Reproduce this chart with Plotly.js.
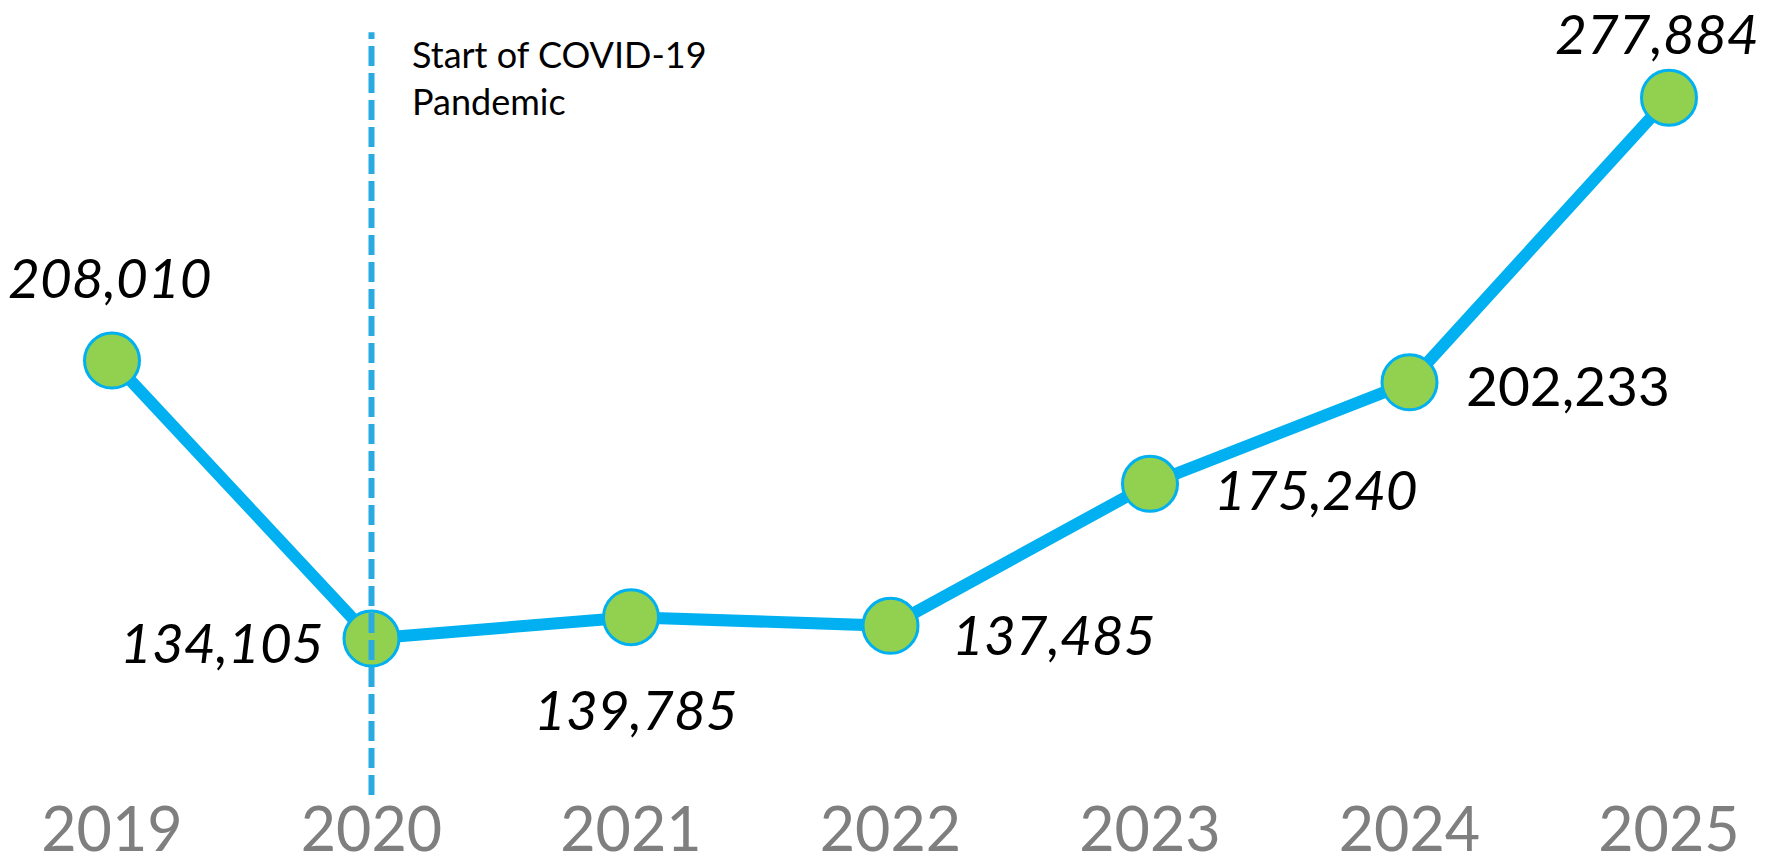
<!DOCTYPE html>
<html>
<head>
<meta charset="utf-8">
<script src="https://cdn.plot.ly/plotly-3.0.1.min.js"></script>
<style>
html,body{margin:0;padding:0;background:#fff;}
#chart{width:1768px;height:866px;}
</style>
</head>
<body>
<div id="chart"></div>
<script>
// ---- data ----
const years = ['2019', '2020', '2021', '2022', '2023', '2024', '2025'];
const values = [208010, 134105, 139785, 137485, 175240, 202233, 277884];
const eventYear = '2020';
const eventText = 'Start of COVID-19<br>Pandemic';

// ---- label placement (pixels, relative to each point) ----
const labelShift = [
  [-2, 84], [-150, -3], [5, -92], [163, -8], [166, -5], [158, -3], [-12, 65]
];
const uprightIdx = [5];

const fmt = v => v.toLocaleString('en-US');

const trace = {
  x: years,
  y: values,
  type: 'scatter',
  mode: 'lines+markers',
  line: {color: '#00B0F0', width: 12},
  marker: {color: '#92D050', size: 55, line: {color: '#00B0F0', width: 3}},
  hoverinfo: 'x+y',
  cliponaxis: false
};

const annotations = years.map((yr, i) => ({
  x: i, y: values[i], xref: 'x', yref: 'y',
  text: uprightIdx.includes(i) ? fmt(values[i]) : '<i>' + fmt(values[i]) + '</i>',
  showarrow: false,
  xanchor: 'center', yanchor: 'middle',
  xshift: labelShift[i][0], yshift: labelShift[i][1],
  font: {family: 'Lato, "Open Sans", sans-serif', size: 55, color: '#000000'}
}));

annotations.push({
  x: 410 / 1768, y: 0.957, xref: 'paper', yref: 'paper',
  text: eventText, showarrow: false, align: 'left',
  xanchor: 'left', yanchor: 'top',
  font: {family: 'Lato, "Open Sans", sans-serif', size: 36, color: '#000000'}
});

const eventIdx = years.indexOf(eventYear);

const layout = {
  width: 1768, height: 866,
  margin: {l: 0, r: 0, t: 0, b: 166},
  paper_bgcolor: '#ffffff', plot_bgcolor: '#ffffff',
  showlegend: false,
  xaxis: {
    type: 'category',
    range: [-0.4316, 6.3815],
    showgrid: false, zeroline: false, showline: false, ticks: '',
    tickfont: {family: 'Lato, "Open Sans", sans-serif', size: 61, color: '#7F7F7F'},
    ticklabelstandoff: 89,
    fixedrange: true
  },
  yaxis: {
    range: [117770, 303870],
    visible: false, showgrid: false, zeroline: false,
    fixedrange: true
  },
  shapes: [{
    type: 'line', xref: 'x', yref: 'paper',
    x0: eventIdx, x1: eventIdx, y0: -0.1357, y1: 0.954,
    line: {color: '#29ABE2', width: 6, dash: '20px,7px'},
    layer: 'above'
  }],
  annotations: annotations
};

Plotly.newPlot('chart', [trace], layout, {displayModeBar: false, staticPlot: true});
</script>
</body>
</html>
